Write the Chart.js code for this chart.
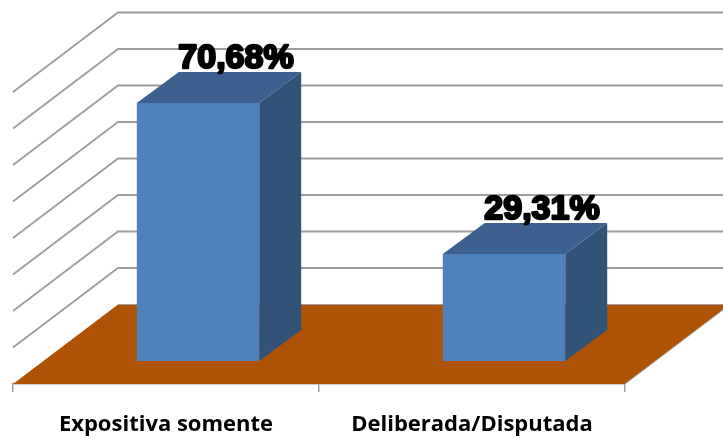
<!DOCTYPE html>
<html>
<head>
<meta charset="utf-8">
<title>Expositiva x Deliberada</title>
<script src="https://cdn.jsdelivr.net/npm/chart.js@4"></script>
<style>
    html, body { margin: 0; padding: 0; background: #fff; overflow: hidden; }
    canvas { display: block; }
</style>
</head>
<body>
<canvas id="grafico" width="723" height="439"></canvas>
<script>
const categorias = ['Expositiva somente', 'Deliberada/Disputada'];
const valores = [70.68, 29.31];
const marcasEixo = [0, 10, 20, 30, 40, 50, 60, 70, 80];

// Profundidade da "caixa" 3D, em pixels
const PROF_X = 105, PROF_Y = 79.5;      // chao inteiro, da frente ate a parede
const DESLOC_X = 32, DESLOC_Y = 23;     // frente da barra em relacao a frente do chao
const BARRA_X = 42, BARRA_Y = 31;       // profundidade da propria barra

const COR_GRADE = '#9e9e9e';
const COR_CHAO = '#ae5306';
const COR_FRENTE = '#4f81bd';
const COR_TOPO = '#3d618f';
const COR_LADO = '#325378';

function poligono(ctx, pontos, cor) {
    ctx.beginPath();
    pontos.forEach((p, i) => i ? ctx.lineTo(p[0], p[1]) : ctx.moveTo(p[0], p[1]));
    ctx.closePath();
    ctx.fillStyle = cor;
    ctx.fill();
}

// Desenha paredes, chao e as faces laterais; a face da frente fica com o proprio Chart.js
const caixa3d = {
    id: 'caixa3d',
    beforeDatasetsDraw(chart) {
        const ctx = chart.ctx;
        const { left, right, bottom } = chart.chartArea;
        const y = chart.scales.y;

        ctx.save();
        ctx.strokeStyle = COR_GRADE;
        ctx.lineWidth = 1.8;
        marcasEixo.slice(1).forEach(v => {
            const py = y.getPixelForValue(v);
            ctx.beginPath();
            ctx.moveTo(left, py);
            ctx.lineTo(left + PROF_X, py - PROF_Y);
            ctx.lineTo(right + PROF_X, py - PROF_Y);
            ctx.stroke();
        });

        poligono(ctx, [
            [left, bottom],
            [right, bottom],
            [right + PROF_X, bottom - PROF_Y],
            [left + PROF_X, bottom - PROF_Y]
        ], COR_CHAO);

        ctx.lineWidth = 1;
        ctx.beginPath();
        ctx.moveTo(left + PROF_X, bottom - PROF_Y);
        ctx.lineTo(right + PROF_X, bottom - PROF_Y);
        ctx.lineTo(right, bottom);
        ctx.stroke();

        chart.getDatasetMeta(0).data.forEach(barra => {
            const esq = barra.x - barra.width / 2 + DESLOC_X;
            const dir = barra.x + barra.width / 2 + DESLOC_X;
            const topo = barra.y - DESLOC_Y;
            const base = barra.base - DESLOC_Y;
            poligono(ctx, [
                [dir, topo], [dir + BARRA_X, topo - BARRA_Y],
                [dir + BARRA_X, base - BARRA_Y], [dir, base]
            ], COR_LADO);
            poligono(ctx, [
                [esq, topo], [esq + BARRA_X, topo - BARRA_Y],
                [dir + BARRA_X, topo - BARRA_Y], [dir, topo]
            ], COR_TOPO);
        });
        ctx.restore();

        // Empurra a face da frente para dentro do chao
        ctx.save();
        ctx.translate(DESLOC_X, -DESLOC_Y);
    },
    afterDatasetsDraw(chart) {
        const ctx = chart.ctx;
        ctx.restore();

        ctx.save();
        ctx.font = 'bold 34px "Liberation Sans"';
        ctx.textAlign = 'center';
        ctx.textBaseline = 'alphabetic';
        ctx.fillStyle = '#000';
        ctx.strokeStyle = '#000';
        ctx.lineWidth = 2.4;
        ctx.lineJoin = 'round';
        chart.getDatasetMeta(0).data.forEach((barra, i) => {
            const texto = valores[i].toFixed(2).replace('.', ',') + '%';
            const tx = barra.x + DESLOC_X + 38;
            const ty = barra.y - DESLOC_Y - BARRA_Y - 4.5;
            ctx.strokeText(texto, tx, ty);
            ctx.fillText(texto, tx, ty);
        });
        ctx.restore();
    }
};

new Chart(document.getElementById('grafico'), {
    type: 'bar',
    data: {
        labels: categorias,
        datasets: [{
            data: valores,
            backgroundColor: COR_FRENTE,
            borderWidth: 0,
            barPercentage: 0.4,
            categoryPercentage: 1
        }]
    },
    options: {
        responsive: false,
        animation: false,
        layout: { padding: { left: 13, right: 98, top: 92, bottom: 0 } },
        plugins: { legend: { display: false }, tooltip: { enabled: false } },
        scales: {
            x: {
                afterFit: s => { s.height = 55; },
                border: { color: COR_GRADE, width: 1.5 },
                grid: { color: COR_GRADE, lineWidth: 1.5, drawOnChartArea: false, tickLength: 8 },
                ticks: {
                    color: '#000',
                    padding: 20,
                    maxRotation: 0,
                    font: { family: 'Open Sans', weight: 'bold', size: 22 }
                }
            },
            y: {
                display: false,
                min: 0,
                max: 80,
                ticks: { stepSize: 10 }
            }
        }
    },
    plugins: [caixa3d]
});
</script>
</body>
</html>
